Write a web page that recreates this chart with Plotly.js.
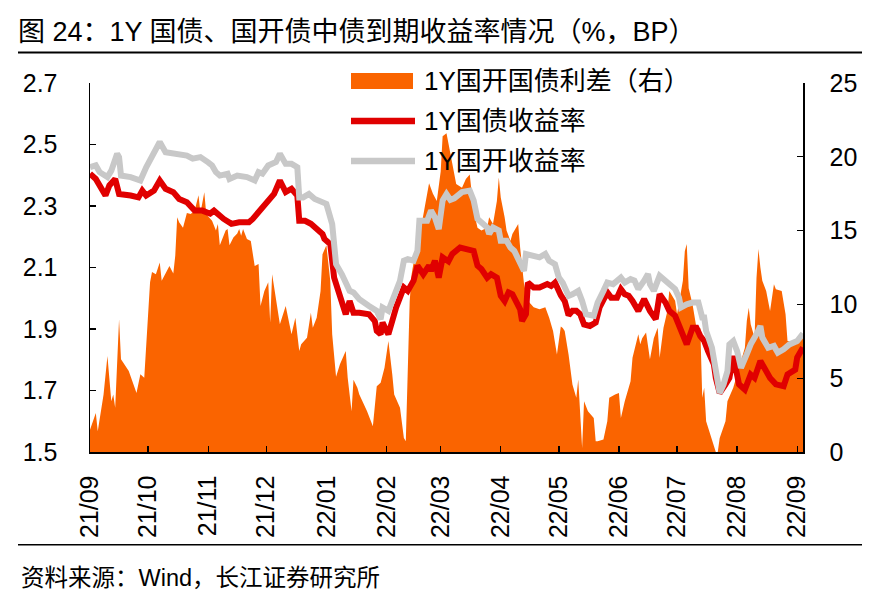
<!DOCTYPE html>
<html>
<head>
<meta charset="utf-8">
<script src="https://cdn.plot.ly/plotly-3.0.1.min.js"></script>
<style>
html,body{margin:0;padding:0;background:#fff;}
#chart{width:880px;height:608px;}
</style>
</head>
<body>
<div id="chart"></div>
<script>
// ---- Data ----
const chartTitle = '图 24：1Y 国债、国开债中债到期收益率情况（%，BP）';
const sourceText = '资料来源：Wind，长江证券研究所';
const seriesNames = ['1Y国开国债利差（右）', '1Y国债收益率', '1Y国开收益率'];

// 1Y 国开国债利差 (BP, right axis)
const spreadDates = ['2021-09-01','2021-09-04','2021-09-05','2021-09-08','2021-09-10','2021-09-12','2021-09-13','2021-09-14','2021-09-16','2021-09-17','2021-09-21','2021-09-25','2021-09-27','2021-09-29','2021-10-02','2021-10-03','2021-10-05','2021-10-07','2021-10-08','2021-10-11','2021-10-12','2021-10-14','2021-10-15','2021-10-16','2021-10-17','2021-10-19','2021-10-21','2021-10-23','2021-10-25','2021-10-27','2021-10-28','2021-10-30','2021-10-31','2021-11-03','2021-11-05','2021-11-06','2021-11-07','2021-11-10','2021-11-11','2021-11-12','2021-11-14','2021-11-16','2021-11-17','2021-11-18','2021-11-19','2021-11-21','2021-11-23','2021-11-25','2021-11-27','2021-11-28','2021-11-30','2021-12-02','2021-12-03','2021-12-04','2021-12-06','2021-12-08','2021-12-11','2021-12-13','2021-12-14','2021-12-16','2021-12-18','2021-12-19','2021-12-22','2021-12-24','2021-12-25','2021-12-27','2021-12-29','2021-12-30','2022-01-01','2022-01-03','2022-01-04','2022-01-06','2022-01-08','2022-01-11','2022-01-12','2022-01-14','2022-01-15','2022-01-17','2022-01-18','2022-01-22','2022-01-25','2022-01-27','2022-01-29','2022-01-31','2022-02-02','2022-02-04','2022-02-05','2022-02-08','2022-02-10','2022-02-11','2022-02-12','2022-02-13','2022-02-14','2022-02-16','2022-02-17','2022-02-20','2022-02-23','2022-02-25','2022-02-27','2022-03-01','2022-03-02','2022-03-04','2022-03-06','2022-03-08','2022-03-09','2022-03-12','2022-03-14','2022-03-16','2022-03-18','2022-03-20','2022-03-22','2022-03-25','2022-03-26','2022-03-28','2022-03-30','2022-03-31','2022-04-01','2022-04-03','2022-04-04','2022-04-06','2022-04-07','2022-04-10','2022-04-11','2022-04-13','2022-04-15','2022-04-18','2022-04-21','2022-04-24','2022-04-26','2022-04-28','2022-04-30','2022-05-02','2022-05-03','2022-05-04','2022-05-06','2022-05-08','2022-05-10','2022-05-11','2022-05-13','2022-05-14','2022-05-16','2022-05-19','2022-05-20','2022-05-21','2022-05-24','2022-05-26','2022-05-27','2022-05-30','2022-06-01','2022-06-02','2022-06-04','2022-06-07','2022-06-08','2022-06-11','2022-06-12','2022-06-13','2022-06-15','2022-06-17','2022-06-19','2022-06-21','2022-06-22','2022-06-24','2022-06-26','2022-06-27','2022-06-30','2022-07-01','2022-07-03','2022-07-04','2022-07-05','2022-07-06','2022-07-07','2022-07-09','2022-07-11','2022-07-13','2022-07-14','2022-07-15','2022-07-16','2022-07-19','2022-07-21','2022-07-22','2022-07-23','2022-07-26','2022-07-27','2022-07-30','2022-08-02','2022-08-03','2022-08-05','2022-08-06','2022-08-07','2022-08-08','2022-08-10','2022-08-11','2022-08-12','2022-08-13','2022-08-14','2022-08-16','2022-08-18','2022-08-20','2022-08-21','2022-08-24','2022-08-26','2022-08-27','2022-08-29','2022-09-01','2022-09-04'];
const spreadValues = [1.5,2.65,1.4,3.9,6.5,3.44,3.9,3.0,9.0,6.28,5.48,4.0,5.26,5.03,11.5,12.2,12.05,12.84,11.6,12.28,12.6,12.1,13.3,15.9,15.56,15.2,16.2,16.13,16.35,17.4,16.2,17.6,16.1,15.67,15.0,15.45,14.0,15.0,15.1,14.0,14.54,14.8,15.1,14.65,15.1,14.43,14.3,12.6,12.73,9.9,10.9,11.5,8.76,12.05,10.24,8.65,9.9,8.65,7.98,9.1,6.84,7.3,7.74,9.44,8.42,9.1,10.9,13.4,14.0,11.6,7.97,5.1,5.94,6.84,5.03,2.76,4.9,4.35,3.9,2.76,1.75,4.46,4.69,5.7,7.52,5.26,3.9,2.99,0.95,0.73,5.7,10.2,12.05,13.6,13.86,15.9,18.2,17.5,17.0,19.0,21.4,21.6,20.2,18.6,18.16,17.9,18.5,18.8,16.35,15.2,15.0,15.2,15.9,15.45,17.0,18.6,17.25,15.9,15.0,14.3,14.77,15.45,13.86,11.4,10.24,9.8,9.67,9.8,9.1,8.2,6.6,8.5,8.4,8.2,6.6,4.58,3.67,4.92,0.27,3.44,2.76,2.31,0.73,0.73,0.84,2.09,3.67,3.9,4.0,2.31,3.44,4.8,6.39,7.98,7.3,7.7,8.09,6.28,7.7,8.42,6.39,8.42,9.56,10.9,10.24,9.33,10.9,11.6,13.6,14.1,11.1,10.0,8.42,8.4,3.67,4.35,2.09,0.73,0,0,0.95,2.09,3.44,4.35,5.7,6.16,7.07,8.88,9.78,8.65,7.74,11.8,13.75,12.5,11.6,10.9,9.56,11.37,11.03,10.9,9.33,7.52,7.5,7.3,7.8];

// 1Y 国债收益率 (%, left axis)
const cgbDates = ['2021-09-01','2021-09-04','2021-09-09','2021-09-11','2021-09-14','2021-09-16','2021-09-22','2021-09-26','2021-09-28','2021-09-30','2021-10-04','2021-10-07','2021-10-10','2021-10-14','2021-10-17','2021-10-21','2021-10-25','2021-10-29','2021-11-02','2021-11-04','2021-11-09','2021-11-13','2021-11-17','2021-11-22','2021-11-24','2021-11-28','2021-12-02','2021-12-05','2021-12-08','2021-12-11','2021-12-14','2021-12-17','2021-12-18','2021-12-21','2021-12-24','2021-12-26','2021-12-30','2021-12-31','2022-01-03','2022-01-05','2022-01-07','2022-01-10','2022-01-11','2022-01-13','2022-01-15','2022-01-18','2022-01-23','2022-01-26','2022-01-27','2022-01-29','2022-01-30','2022-02-01','2022-02-02','2022-02-04','2022-02-06','2022-02-10','2022-02-12','2022-02-15','2022-02-17','2022-02-20','2022-02-23','2022-02-24','2022-02-26','2022-02-28','2022-03-02','2022-03-05','2022-03-07','2022-03-11','2022-03-14','2022-03-18','2022-03-20','2022-03-22','2022-03-25','2022-03-27','2022-03-30','2022-04-01','2022-04-03','2022-04-05','2022-04-07','2022-04-09','2022-04-11','2022-04-12','2022-04-14','2022-04-15','2022-04-18','2022-04-21','2022-04-25','2022-04-27','2022-04-29','2022-05-02','2022-05-04','2022-05-06','2022-05-08','2022-05-10','2022-05-12','2022-05-14','2022-05-17','2022-05-20','2022-05-22','2022-05-26','2022-05-28','2022-05-31','2022-06-02','2022-06-04','2022-06-06','2022-06-08','2022-06-11','2022-06-14','2022-06-17','2022-06-20','2022-06-22','2022-06-25','2022-06-27','2022-06-30','2022-07-02','2022-07-04','2022-07-06','2022-07-09','2022-07-11','2022-07-13','2022-07-15','2022-07-17','2022-07-20','2022-07-21','2022-07-23','2022-07-26','2022-07-28','2022-07-30','2022-08-02','2022-08-05','2022-08-08','2022-08-10','2022-08-13','2022-08-15','2022-08-18','2022-08-21','2022-08-25','2022-08-27','2022-08-31','2022-09-01','2022-09-03','2022-09-04'];
const cgbValues = [2.405,2.388,2.334,2.367,2.388,2.339,2.334,2.328,2.35,2.334,2.35,2.383,2.356,2.345,2.323,2.312,2.285,2.285,2.275,2.285,2.258,2.242,2.247,2.247,2.258,2.285,2.312,2.339,2.383,2.345,2.356,2.334,2.252,2.252,2.242,2.23,2.209,2.193,2.176,2.067,2.024,1.97,1.948,1.991,1.953,1.953,1.948,1.926,1.894,1.883,1.921,1.894,1.883,1.926,1.97,2.035,2.024,2.057,2.106,2.078,2.106,2.089,2.122,2.067,2.133,2.12,2.144,2.165,2.16,2.154,2.106,2.095,2.067,2.078,2.067,2.008,1.991,2.019,2.013,1.991,1.964,1.926,1.948,2.051,2.035,2.035,2.046,2.04,2.051,2.01,1.991,1.945,1.959,1.959,1.948,1.915,1.91,1.921,1.97,2.019,2.002,2.002,2.03,2.013,2.008,1.991,1.959,1.997,1.959,1.932,2.013,1.986,1.959,1.943,1.91,1.872,1.85,1.904,1.904,1.877,1.861,1.828,1.785,1.741,1.692,1.72,1.741,1.812,1.72,1.703,1.752,1.741,1.796,1.774,1.741,1.72,1.714,1.752,1.768,1.807,1.828,1.84];

// 1Y 国开收益率 (%, left axis)
const cdbDates = ['2021-09-01','2021-09-04','2021-09-06','2021-09-10','2021-09-12','2021-09-15','2021-09-16','2021-09-17','2021-09-22','2021-09-27','2021-09-30','2021-10-05','2021-10-07','2021-10-10','2021-10-16','2021-10-21','2021-10-24','2021-10-28','2021-11-01','2021-11-03','2021-11-05','2021-11-07','2021-11-11','2021-11-12','2021-11-16','2021-11-21','2021-11-25','2021-11-27','2021-11-29','2021-12-02','2021-12-06','2021-12-08','2021-12-11','2021-12-14','2021-12-17','2021-12-18','2021-12-20','2021-12-23','2021-12-26','2021-12-30','2022-01-01','2022-01-04','2022-01-05','2022-01-06','2022-01-09','2022-01-13','2022-01-15','2022-01-18','2022-01-23','2022-01-27','2022-01-29','2022-01-30','2022-02-02','2022-02-05','2022-02-08','2022-02-10','2022-02-12','2022-02-15','2022-02-17','2022-02-18','2022-02-22','2022-02-24','2022-02-26','2022-02-28','2022-03-02','2022-03-04','2022-03-06','2022-03-08','2022-03-12','2022-03-16','2022-03-18','2022-03-20','2022-03-22','2022-03-25','2022-03-26','2022-03-28','2022-03-31','2022-04-01','2022-04-04','2022-04-06','2022-04-08','2022-04-11','2022-04-13','2022-04-14','2022-04-18','2022-04-21','2022-04-24','2022-04-26','2022-04-29','2022-05-01','2022-05-03','2022-05-06','2022-05-08','2022-05-11','2022-05-13','2022-05-15','2022-05-19','2022-05-21','2022-05-24','2022-05-26','2022-05-29','2022-06-01','2022-06-02','2022-06-04','2022-06-07','2022-06-09','2022-06-11','2022-06-14','2022-06-16','2022-06-17','2022-06-19','2022-06-22','2022-06-25','2022-06-27','2022-06-30','2022-07-02','2022-07-03','2022-07-06','2022-07-09','2022-07-12','2022-07-14','2022-07-15','2022-07-16','2022-07-19','2022-07-21','2022-07-23','2022-07-25','2022-07-27','2022-07-28','2022-07-30','2022-08-01','2022-08-03','2022-08-06','2022-08-08','2022-08-11','2022-08-13','2022-08-14','2022-08-17','2022-08-20','2022-08-22','2022-08-25','2022-08-28','2022-09-01','2022-09-04'];
const cdbValues = [2.426,2.432,2.41,2.394,2.415,2.47,2.459,2.399,2.394,2.383,2.426,2.49,2.508,2.475,2.47,2.464,2.454,2.459,2.442,2.432,2.41,2.399,2.405,2.388,2.399,2.394,2.383,2.41,2.405,2.432,2.443,2.47,2.437,2.437,2.426,2.328,2.328,2.339,2.323,2.312,2.307,2.241,2.176,2.111,2.078,2.024,2.019,1.997,1.975,1.959,1.932,1.97,1.959,2.002,2.057,2.122,2.127,2.122,2.154,2.252,2.252,2.285,2.263,2.225,2.318,2.339,2.32,2.325,2.345,2.35,2.318,2.258,2.247,2.23,2.209,2.23,2.22,2.187,2.187,2.165,2.154,2.111,2.089,2.144,2.138,2.133,2.144,2.122,2.111,2.067,2.05,2.008,2.013,2.024,1.991,1.948,1.943,1.986,2.024,2.051,2.046,2.062,2.067,2.051,2.062,2.057,2.03,2.057,2.079,2.046,2.024,2.073,2.057,2.051,2.03,2.002,1.97,1.98,1.986,1.986,1.937,1.937,1.894,1.839,1.752,1.692,1.72,1.763,1.85,1.861,1.828,1.774,1.818,1.85,1.883,1.91,1.872,1.839,1.845,1.823,1.834,1.85,1.861,1.885];

// ---- Layout constants (pixels) ----
const W = 880, H = 608;
const M = {l: 90, r: 77, t: 82.5, b: 156.3};
const PW = W - M.l - M.r, PH = H - M.t - M.b;
const px2x = p => (p - M.l) / PW;
const py2y = p => (H - M.b - p) / PH;

const FONT = 'Liberation Sans, Arial, "Noto Sans CJK SC", sans-serif';
const ORANGE = '#FA6400', RED = '#E00000', GRAY = '#C8C8C8';

const traces = [
  {x: spreadDates, y: spreadValues, type: 'scatter', mode: 'lines', name: seriesNames[0],
   yaxis: 'y', fill: 'tozeroy', fillcolor: ORANGE, line: {width: 0, color: ORANGE}, hoverinfo: 'skip'},
  {x: cgbDates, y: cgbValues, type: 'scatter', mode: 'lines', name: seriesNames[1],
   yaxis: 'y2', line: {width: 6, color: RED}},
  {x: cdbDates, y: cdbValues, type: 'scatter', mode: 'lines', name: seriesNames[2],
   yaxis: 'y2', line: {width: 6, color: GRAY}}
];

// manual legend (swatches + labels)
const legY = [80, 120.5, 160.5];
const shapes = [
  {type: 'line', xref: 'paper', yref: 'paper', x0: px2x(18), x1: px2x(862), y0: py2y(52), y1: py2y(52), line: {color: '#000', width: 2}},
  {type: 'line', xref: 'paper', yref: 'paper', x0: px2x(18), x1: px2x(862), y0: py2y(544.5), y1: py2y(544.5), line: {color: '#000', width: 1.3}},
  {type: 'rect', xref: 'paper', yref: 'paper', x0: px2x(351), x1: px2x(413), y0: py2y(72.5), y1: py2y(88.5), fillcolor: ORANGE, line: {width: 0}},
  {type: 'line', xref: 'paper', yref: 'paper', x0: px2x(351), x1: px2x(415), y0: py2y(legY[1]), y1: py2y(legY[1]), line: {color: RED, width: 6.5}},
  {type: 'line', xref: 'paper', yref: 'paper', x0: px2x(351), x1: px2x(415), y0: py2y(legY[2]), y1: py2y(legY[2]), line: {color: GRAY, width: 6.5}}
];

const annotations = seriesNames.map((t, i) => ({
  text: t, xref: 'paper', yref: 'paper', x: px2x(422), y: py2y(legY[i]),
  xanchor: 'left', yanchor: 'middle', showarrow: false,
  font: {family: FONT, size: 26, color: '#000'}
}));
annotations.push({
  text: sourceText, xref: 'paper', yref: 'paper', x: px2x(19), y: py2y(578),
  xanchor: 'left', yanchor: 'middle', showarrow: false,
  font: {family: FONT, size: 23.5, color: '#000'}
});

const layout = {
  width: W, height: H,
  margin: M,
  paper_bgcolor: '#fff', plot_bgcolor: '#fff',
  showlegend: false,
  font: {family: FONT, size: 25, color: '#000'},
  title: {text: chartTitle, xref: 'container', yref: 'container', x: 18 / W, xanchor: 'left',
          y: 1 - 32 / H, yanchor: 'middle', font: {family: FONT, size: 27, color: '#000'}},
  xaxis: {
    type: 'date', range: ['2021-09-01', '2022-09-04'],
    tick0: '2021-09-01', dtick: 'M1', tickformat: '%y/%m', tickangle: -90,
    ticks: 'inside', ticklen: 6, tickwidth: 1.3, tickcolor: '#000',
    showline: true, linecolor: '#000', linewidth: 1.5, showgrid: false, zeroline: false,
    ticklabelstandoff: 12, tickfont: {family: FONT, size: 25, color: '#000'}
  },
  yaxis: {
    side: 'right', range: [0, 25], dtick: 5, tick0: 0,
    ticks: 'inside', ticklen: 6, tickwidth: 1.3, tickcolor: '#000',
    showline: true, linecolor: '#000', linewidth: 1.5, showgrid: false, zeroline: false,
    ticklabelstandoff: 20, tickfont: {family: FONT, size: 25, color: '#000'}
  },
  yaxis2: {
    side: 'left', overlaying: 'y', range: [1.5, 2.7], dtick: 0.2, tick0: 1.5, tickformat: '.1f',
    ticks: 'inside', ticklen: 6, tickwidth: 1.3, tickcolor: '#000',
    showline: true, linecolor: '#000', linewidth: 1.5, showgrid: false, zeroline: false,
    ticklabelstandoff: 26, tickfont: {family: FONT, size: 25, color: '#000'}
  },
  shapes: shapes,
  annotations: annotations
};

Plotly.newPlot('chart', traces, layout, {staticPlot: true, displayModeBar: false});
</script>
</body>
</html>
